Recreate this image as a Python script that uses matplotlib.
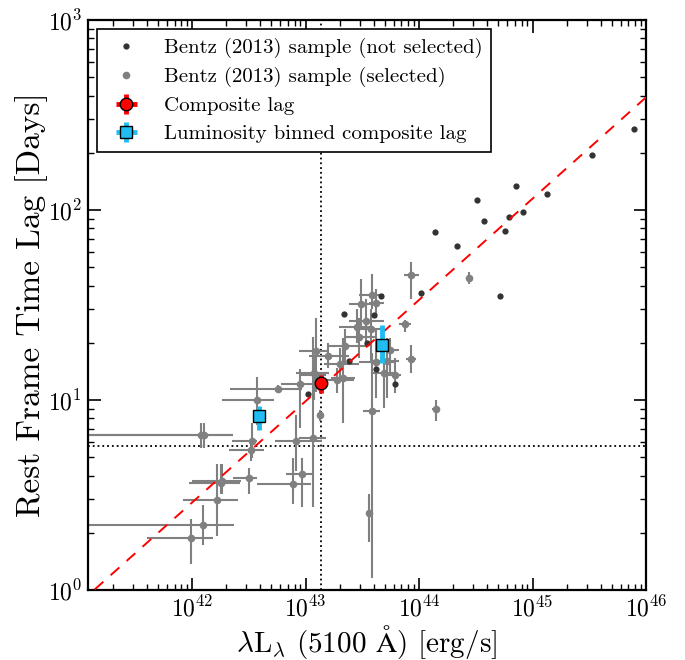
import matplotlib
matplotlib.use('Agg')
import matplotlib.pyplot as plt
import numpy as np

plt.rcParams['font.family'] = ['cmr10', 'DejaVu Serif']
plt.rcParams['mathtext.fontset'] = 'cm'
plt.rcParams['axes.unicode_minus'] = False
plt.rcParams['axes.formatter.use_mathtext'] = True

# Bentz (2013) sample, not selected (no error bars drawn)
L_nosel = [7.85e45, 3.37e45, 1.35e45, 7.10e44, 8.18e44, 6.24e44, 5.67e44,
           3.76e44, 3.21e44, 1.39e44, 2.17e44, 1.04e44, 5.20e44, 4.59e43,
           2.16e43, 4.02e43, 3.51e43, 2.43e43, 4.21e43, 6.19e43, 1.06e43]
lag_nosel = [266.5, 195.8, 121.7, 134.0, 97.2, 91.6, 77.9,
             87.5, 113.2, 77.0, 64.3, 36.8, 35.5, 35.5,
             28.4, 28.0, 20.0, 16.1, 14.6, 12.1, 10.7]

# Bentz (2013) sample, selected: value, lower bound, upper bound
L_sel = [9.75e41, 1.25e42, 1.19e42, 1.28e42, 1.67e42, 1.79e42, 1.85e42,
         3.19e42, 3.27e42, 3.39e42, 3.73e42, 5.66e42, 8.86e42, 8.28e42,
         1.17e43, 7.74e42, 9.29e42, 1.35e43, 1.18e43, 1.24e43, 1.58e43,
         2.23e43, 2.02e43, 1.89e43, 2.15e43, 2.96e43, 2.86e43, 3.41e43,
         3.07e43, 3.75e43, 3.84e43, 4.18e43, 4.18e43, 5.19e43, 5.53e43,
         4.93e43, 6.19e43, 7.59e43, 8.57e43, 8.51e43, 2.73e44, 1.41e44,
         3.83e43, 3.60e43, 1.22e43]
L_lo = [4.0e41, 5e40, 5e40, 5e40, 8.3e41, 9.35e41, 1.0e42,
        2.28e42, 2.12e42, 2.25e42, 1.83e42, 2.15e42, 6.03e42, 5.41e42,
        8.79e42, 3.75e42, 6.71e42, 1.28e43, 8.26e42, 8.8e42, 1.08e43,
        1.55e43, 1.46e43, 1.32e43, 1.69e43, 2.20e43, 1.98e43, 2.43e43,
        2.43e43, 2.98e43, 2.98e43, 3.65e43, 2.98e43, 3.80e43, 4.30e43,
        3.80e43, 5.26e43, 6.71e43, 7.69e43, 7.33e43, 2.6e44, 1.31e44,
        3.18e43, 3.5e43, 9.0e42]
L_hi = [1.53e42, 2.35e42, 2.30e42, 2.30e42, 2.53e42, 2.64e42, 2.7e42,
        3.75e42, 4.32e42, 3.75e42, 5.30e42, 9.3e42, 1.32e43, 1.40e43,
        1.51e43, 1.12e43, 1.19e43, 1.45e43, 1.62e43, 1.62e43, 2.43e43,
        3.51e43, 2.98e43, 2.69e43, 2.75e43, 4.30e43, 3.80e43, 4.95e43,
        4.04e43, 4.95e43, 4.95e43, 4.95e43, 6.07e43, 6.71e43, 6.71e43,
        6.44e43, 7.0e43, 8.57e43, 9.49e43, 9.89e43, 2.9e44, 1.51e44,
        4.56e43, 3.7e43, 1.5e43]
lag_sel = [1.87, 2.20, 6.53, 6.53, 2.99, 3.65, 3.75,
           3.88, 5.45, 6.06, 10.0, 11.5, 12.1, 6.12,
           6.32, 3.62, 4.08, 8.38, 13.8, 18.1, 17.1,
           19.2, 15.5, 12.7, 13.1, 21.4, 24.2, 26.0,
           32.1, 23.8, 35.8, 32.5, 15.9, 16.1, 18.3,
           13.9, 13.5, 25.0, 16.5, 45.4, 43.9, 8.97,
           8.72, 2.54, 13.5]
lag_lo = [1.37, 1.72, 5.61, 5.61, 1.93, 3.19, 3.2,
          3.19, 4.79, 4.97, 7.43, 11.0, 7.13, 4.25,
          2.72, 2.83, 2.72, 7.76, 10.0, 11.0, 14.8,
          15.6, 13.0, 10.9, 7.58, 16.6, 19.9, 19.9,
          23.8, 15.6, 30.3, 26.9, 10.2, 10.2, 13.7,
          9.08, 10.9, 22.7, 13.8, 33.9, 41.0, 7.79,
          1.16, 1.78, 11.0]
lag_hi = [2.36, 2.79, 7.58, 7.58, 4.58, 4.62, 4.6,
          4.40, 6.10, 7.58, 13.2, 12.0, 14.5, 8.38,
          21.6, 4.97, 4.97, 8.90, 17.0, 27.0, 20.0,
          23.8, 18.7, 14.7, 21.1, 26.9, 30.3, 34.2,
          43.5, 30.3, 46.2, 38.6, 23.8, 21.1, 21.1,
          17.6, 16.6, 26.3, 19.5, 53.2, 47.4, 10.0,
          17.6, 3.19, 16.0]

# composite lag
L_comp = [1.38e43]
lag_comp = [12.3]
lag_comp_lo = [10.9]
lag_comp_hi = [13.5]

# luminosity binned composite lags
L_bin = [3.9e42, 4.7e43]
lag_bin = [8.25, 19.6]
lag_bin_lo = [6.97, 15.6]
lag_bin_hi = [9.3, 24.7]

# Bentz et al. (2013) R-L relation
K_RL = 1.527
ALPHA_RL = 0.533

# selection cuts
L_CUT = 1.38e43
LAG_CUT = 5.7

L_sel = np.array(L_sel); lag_sel = np.array(lag_sel)
xerr = [L_sel - np.array(L_lo), np.array(L_hi) - L_sel]
yerr = [lag_sel - np.array(lag_lo), np.array(lag_hi) - lag_sel]

fig = plt.figure(figsize=(6.85, 6.6), dpi=100)
ax = fig.add_axes([0.128, 0.106, 0.815, 0.8636])

ax.errorbar(L_sel, lag_sel, xerr=xerr, yerr=yerr, fmt='none',
            ecolor='gray', elinewidth=1.5, capsize=0, zorder=2)
ax.plot(L_nosel, lag_nosel, 'o', color='0.2', ms=4.5, mec='none',
        label='Bentz (2013) sample (not selected)', zorder=3)
ax.plot(L_sel, lag_sel, 'o', color='gray', ms=5.5, mec='none',
        label='Bentz (2013) sample (selected)', zorder=3)

lx = np.logspace(41, 46.2, 50)
ax.plot(lx, 10**(K_RL + ALPHA_RL*np.log10(lx/1e44)), '--', color='red',
        lw=1.4, dashes=(6, 5), zorder=4)

ax.axvline(L_CUT, color='k', ls=':', lw=1.3, zorder=1)
ax.axhline(LAG_CUT, color='k', ls=':', lw=1.3, zorder=1)

ax.errorbar(L_comp, lag_comp,
            yerr=[np.array(lag_comp) - lag_comp_lo, np.array(lag_comp_hi) - lag_comp],
            xerr=[[1.5e42], [1.5e42]],
            fmt='o', color='red', mec='k', mew=1, ms=9, elinewidth=3.5,
            capsize=0, label='Composite lag', zorder=6)
ax.errorbar(L_bin, lag_bin,
            yerr=[np.array(lag_bin) - lag_bin_lo, np.array(lag_bin_hi) - lag_bin],
            xerr=[[2.5e41, 3e42], [2.5e41, 3e42]],
            fmt='s', color='#1fbdf2', ecolor='#1fbdf2', mec='k', mew=1, ms=8.5,
            elinewidth=3.5, capsize=0, label='Luminosity binned composite lag',
            zorder=6)

ax.set_xscale('log')
ax.set_yscale('log')
ax.set_xlim(1.2e41, 1e46)
ax.set_ylim(1, 1000)

ax.tick_params(which='both', direction='in', top=True, right=True,
               labelsize=17, pad=4)
ax.tick_params(which='major', length=9, width=1.2)
ax.tick_params(which='minor', length=4.5, width=1)
for s in ax.spines.values():
    s.set_linewidth(1.6)

ax.set_xlabel(r'$\lambda$L$_\lambda$ (5100 $\mathrm{\AA}$) [erg/s]', fontsize=21, labelpad=1)
ax.set_ylabel('Rest Frame Time Lag [Days]', fontsize=24, labelpad=0)

leg = ax.legend(loc='upper left', numpoints=1, fontsize=15, fancybox=False,
                framealpha=1, edgecolor='k', borderpad=0.4, labelspacing=0.45,
                handlelength=2.0, borderaxespad=0.45)
leg.get_frame().set_linewidth(1.2)

plt.savefig('out.png', dpi=100)
